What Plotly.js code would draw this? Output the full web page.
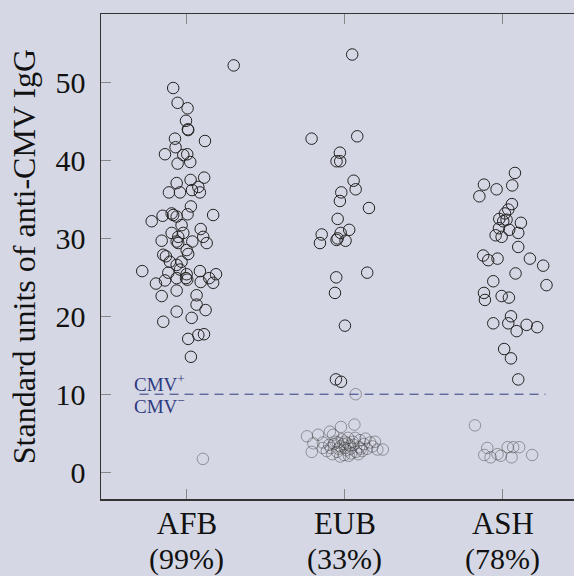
<!DOCTYPE html>
<html>
<head>
<meta charset="utf-8">
<script src="https://cdn.plot.ly/plotly-3.0.1.min.js"></script>
<style>html,body{margin:0;padding:0;background:#d5d8e4;overflow:hidden}</style>
</head>
<body>
<div id="chart" style="width:574px;height:576px"></div>
<script>
// Categories and labels
const categories = ["AFB", "EUB", "ASH"];
const percentLabels = ["(99%)", "(33%)", "(78%)"];
const cutoff = 10;

// AFB: jitter offset from category centre, and value
const afbPosX = [0.296,-0.087,-0.059,0.004,-0.006,0.006,0.008,0.114,-0.076,-0.072,-0.139,-0.023,0.002,0.021,-0.059,-0.065,0.023,0.109,-0.114,-0.044,0.032,0.072,0.082,0.025,0.166,-0.223,-0.154,-0.097,-0.087,-0.065,0.004,-0.034,-0.097,-0.055,-0.023,0.087,0.103,0.125,-0.160,-0.065,-0.055,0.034,-0.002,0.008,-0.150,-0.133,-0.108,-0.034,-0.065,-0.283,-0.118,-0.044,-0.002,0.082,0.184,-0.196,-0.139,-0.065,-0.006,0.002,0.087,0.141,0.166,-0.065,-0.160,0.061,0.061,0.118,-0.065,0.030,-0.150,0.008,0.072,0.108,0.025];
const afbPos = [52.2,49.3,47.4,46.7,45.1,44.0,43.9,42.5,42.8,41.7,40.8,40.7,40.8,39.8,39.6,37.1,37.5,37.8,35.9,35.9,36.2,36.6,35.9,34.1,33.0,32.2,32.9,33.2,33.0,32.8,33.1,31.7,30.7,30.2,30.7,31.2,30.2,29.4,29.7,29.6,29.4,29.6,28.5,28.0,27.9,27.7,27.0,27.0,26.6,25.8,25.6,26.0,25.4,25.8,25.4,24.2,24.6,24.9,24.9,24.7,24.4,24.9,24.3,23.3,22.6,22.7,21.5,20.8,20.6,19.8,19.3,17.1,17.6,17.7,14.8];
const afbNegX = [0.101];
const afbNeg = [1.7];

// EUB
const eubPosX = [0.046,-0.211,0.078,-0.032,-0.053,-0.030,0.055,0.068,-0.023,-0.032,0.152,-0.046,-0.147,-0.158,-0.027,0.027,-0.046,-0.053,0.004,0.141,-0.055,-0.063,0.000,-0.057,-0.025];
const eubPos = [53.6,42.8,43.1,41.0,39.9,39.9,37.4,36.3,35.9,34.8,33.9,32.5,30.5,29.4,30.7,31.1,30.0,29.8,29.7,25.6,25.0,23.0,18.8,11.9,11.6];
const eubNegX = [0.068,-0.24,-0.17,-0.20,-0.21,-0.14,-0.095,-0.025,0.06,-0.075,-0.14,-0.03,0.16,0.19,0.205,0.24,0.025,-0.08,0.095,0.02,0.14,-0.06,-0.04,-0.01,0.01,0.03,0.05,0.07,0.09,-0.05,-0.02,0.0,0.04,0.11,0.12,-0.10,-0.115,0.065,-0.005,0.085,0.175,-0.07,0.035,-0.03,0.13,0.0,0.055,-0.045,0.1,0.015,-0.09];
const eubNeg = [10.0,4.6,4.8,3.7,2.6,3.8,5.2,5.8,6.1,4.8,3.1,3.3,3.8,3.9,2.9,2.9,2.1,2.3,4.1,4.4,3.0,3.9,3.0,3.6,2.8,3.4,3.9,2.6,3.2,2.6,4.2,3.1,2.4,2.7,3.6,3.5,2.7,4.4,2.2,2.3,3.3,3.6,3.0,2.0,4.3,3.9,3.5,3.8,3.0,3.7,3.1];

// ASH
const ashPosX = [0.076,-0.120,-0.040,0.059,-0.149,0.057,0.034,0.013,-0.023,0.002,0.023,0.114,-0.025,0.040,0.097,-0.046,-0.008,0.097,-0.125,-0.093,-0.034,0.171,0.255,0.080,-0.061,0.276,-0.120,-0.114,-0.008,0.038,0.051,-0.061,0.034,0.087,0.150,0.217,0.008,0.051,0.097];
const ashPos = [38.4,36.9,36.3,36.8,35.4,34.4,33.7,33.2,32.5,32.2,32.4,32.0,31.3,31.1,30.7,30.4,30.2,28.9,27.8,27.2,27.4,27.4,26.5,25.5,24.5,24.0,23.0,22.1,22.6,22.4,20.0,19.1,19.1,18.1,18.9,18.6,15.8,14.6,11.9];
const ashNegX = [-0.177,-0.099,-0.118,-0.078,-0.034,-0.013,0.030,0.065,0.103,0.055,0.185];
const ashNeg = [6.0,3.1,2.2,1.9,2.3,2.1,3.2,3.2,3.2,1.9,2.2];

const groups = [
  {pX: afbPosX, p: afbPos, nX: afbNegX, n: afbNeg},
  {pX: eubPosX, p: eubPos, nX: eubNegX, n: eubNeg},
  {pX: ashPosX, p: ashPos, nX: ashNegX, n: ashNeg}
];

const FONT = "Liberation Serif, DejaVu Serif, serif";
const traces = [];
groups.forEach((g, i) => {
  traces.push({
    type: "scatter", mode: "markers", showlegend: false, hoverinfo: "skip",
    x: g.nX.map(v => i + v), y: g.n,
    marker: {symbol: "circle-open", size: 11.5, color: "rgba(60,60,60,0.45)", line: {width: 1}}
  });
  traces.push({
    type: "scatter", mode: "markers", showlegend: false, hoverinfo: "skip",
    x: g.pX.map(v => i + v), y: g.p,
    marker: {symbol: "circle-open", size: 11.5, color: "#222222", line: {width: 1}}
  });
});
// cutoff line
traces.push({
  type: "scatter", mode: "lines", showlegend: false, hoverinfo: "skip",
  x: [-0.30, 2.27], y: [cutoff, cutoff],
  line: {color: "#2e3a80", width: 1, dash: "9px,6px"}
});

const annotations = percentLabels.map((t, i) => ({
  x: i, y: -0.123, xref: "x", yref: "paper", text: t, showarrow: false,
  font: {family: FONT, size: 30, color: "#111"}, xanchor: "center", yanchor: "middle"
}));
annotations.push({x: -0.345, y: cutoff + 1.5, xref: "x", yref: "y", text: "CMV<sup>+</sup>", showarrow: false,
  font: {family: FONT, size: 19, color: "#2e3a80"}, xanchor: "left", yanchor: "middle"});
annotations.push({x: -0.345, y: cutoff - 1.4, xref: "x", yref: "y", text: "CMV<sup>−</sup>", showarrow: false,
  font: {family: FONT, size: 19, color: "#2e3a80"}, xanchor: "left", yanchor: "middle"});

const layout = {
  width: 574, height: 576,
  paper_bgcolor: "#d5d8e4", plot_bgcolor: "#d5d8e4",
  margin: {l: 101, r: 0, t: 14, b: 77},
  showlegend: false,
  xaxis: {
    range: [-0.544, 2.45], tickvals: [0, 1, 2], ticktext: categories,
    showgrid: false, zeroline: false, showline: true, linecolor: "#333", linewidth: 1.5,
    mirror: "ticks", ticks: "inside", ticklen: 10, tickcolor: "#888", tickwidth: 1,
    tickfont: {family: FONT, size: 31, color: "#111"}, ticklabelstandoff: -4
  },
  yaxis: {
    range: [-3.45, 58.8], tickvals: [0, 10, 20, 30, 40, 50],
    showgrid: false, zeroline: false, showline: true, linecolor: "#333", linewidth: 1.5,
    ticks: "inside", ticklen: 10, tickcolor: "#888", tickwidth: 1,
    tickfont: {family: FONT, size: 30, color: "#111"}, ticklabelstandoff: 8,
    title: {text: "Standard units of anti-CMV IgG", font: {family: FONT, size: 32, color: "#111"}, standoff: 10}
  },
  annotations: annotations
};

Plotly.newPlot("chart", traces, layout, {staticPlot: true, displayModeBar: false});
</script>
</body>
</html>
